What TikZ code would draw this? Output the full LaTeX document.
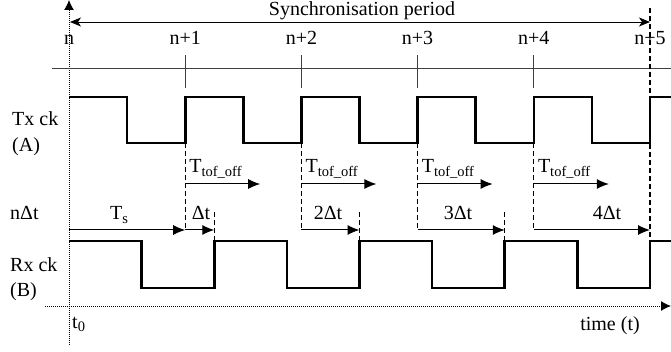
\documentclass[tikz,border=0pt]{standalone}
\usepackage{fontspec}
\setmainfont{Liberation Serif}
\usetikzlibrary{arrows.meta}
\newcommand\lowsub[1]{\raisebox{-0.35ex}{\fontsize{14.5}{15}\selectfont #1}}
\begin{document}
\begin{tikzpicture}[x=1pt,y=-1pt,
  lbl/.style={font=\fontsize{20}{22}\selectfont, inner sep=0pt},
  axisline/.style={densely dotted, line width=1pt, -{Latex[length=10pt,width=10pt]}},
  gridline/.style={line width=0.9pt, draw=black!75},
  clk/.style={line width=2.6pt, line join=miter},
  guide/.style={dash pattern=on 5pt off 3pt, line width=1.1pt},
  tofarrow/.style={line width=1pt, -{Latex[length=12pt,width=10pt]}},
  syncarrow/.style={line width=0.9pt, {Stealth[length=11pt,width=9pt,inset=3pt]}-{Stealth[length=11pt,width=9pt,inset=3pt]}}
]
\useasboundingbox (0,0) rectangle (671,352);

% positions
\foreach \k in {0,...,5} {\coordinate (x\k) at ({69+116.2*\k},0);}
\foreach \j in {0,...,4} {\coordinate (r\j) at ({69+145.25*\j},0);}

% axes
\coordinate (vb) at (69,345); \coordinate (vt) at (69,0);
\coordinate (hl) at (45,306); \coordinate (hr) at (671,306);
\draw[axisline] (vb) -- (vt);
\draw[axisline] (hl) -- (hr);

% synchronisation period
\coordinate (sl) at (70,22); \coordinate (sr) at (650,22);
\draw[syncarrow] (sl) -- (sr);
\node[lbl, anchor=base] (sync) at (362,16) {Synchronisation period};

% index labels
\node[lbl, anchor=base] (n0) at (x0 |- 0,45) {n};
\foreach \k in {1,...,5} {\node[lbl, anchor=base] (n\k) at (x\k |- 0,45) {n+\k};}

% horizontal line and ticks
\coordinate (gl) at (52,68); \coordinate (gr) at (671,68);
\draw[gridline] (gl) -- (gr);
\foreach \k in {1,...,4} {\draw[gridline] (x\k |- 0,55) -- (x\k |- 0,88);}

% Tx clock
\draw[clk] (69,97) \foreach \k in {0,...,4} { -- ({69+116.2*\k+58.1},97) -- ({69+116.2*\k+58.1},143) -- ({69+116.2*(\k+1)},143) -- ({69+116.2*(\k+1)},97) } -- (671,97);

% Rx clock
\draw[clk] (69,241) \foreach \j in {0,...,3} { -- ({69+145.25*\j+72.625},241) -- ({69+145.25*\j+72.625},288) -- ({69+145.25*(\j+1)},288) -- ({69+145.25*(\j+1)},241) } -- (671,241);

% dashed guides
\draw[guide] (x5 |- 0,8) -- (x5 |- 0,241);
\foreach \k in {1,...,4} {\draw[guide] (x\k |- 0,143) -- (x\k |- 0,230);}
\foreach \j in {1,...,3} {\draw[guide] (r\j |- 0,212) -- (r\j |- 0,241);}

% T_tof_off arrows and labels
\foreach \k in {1,...,4} {
  \draw[tofarrow] (x\k |- 0,184) -- ([xshift=75pt]x\k |- 0,184);
  \node[lbl, anchor=base west] (tof\k) at ([xshift=4pt]x\k |- 0,173) {T\lowsub{tof\_off}};
}

% Ts and delta arrows
\draw[tofarrow] (x0 |- 0,230) -- (x1 |- 0,230);
\foreach \k in {1,...,4} {\draw[tofarrow] (x\k |- 0,230) -- (r\k |- 0,230);}
\node[lbl, anchor=base] (ts) at (119,220) {T\lowsub{s}};
\node[lbl, anchor=base] (d1) at (201,220) {Δt};
\node[lbl, anchor=base] (d2) at (328,220) {2Δt};
\node[lbl, anchor=base] (d3) at (458,220) {3Δt};
\node[lbl, anchor=base] (d4) at (607,220) {4Δt};

% side labels
\node[lbl, anchor=base west] (tx) at (12,126) {Tx ck};
\node[lbl, anchor=base west] (txa) at (12,152) {(A)};
\node[lbl, anchor=base west] (ndt) at (10,220) {nΔt};
\node[lbl, anchor=base west] (rx) at (10,272) {Rx ck};
\node[lbl, anchor=base west] (rxb) at (10,297) {(B)};
\node[lbl, anchor=base west] (t0) at (72,328) {t\lowsub{0}};
\node[lbl, anchor=base] (time) at (610,330) {time (t)};
\end{tikzpicture}
\end{document}
